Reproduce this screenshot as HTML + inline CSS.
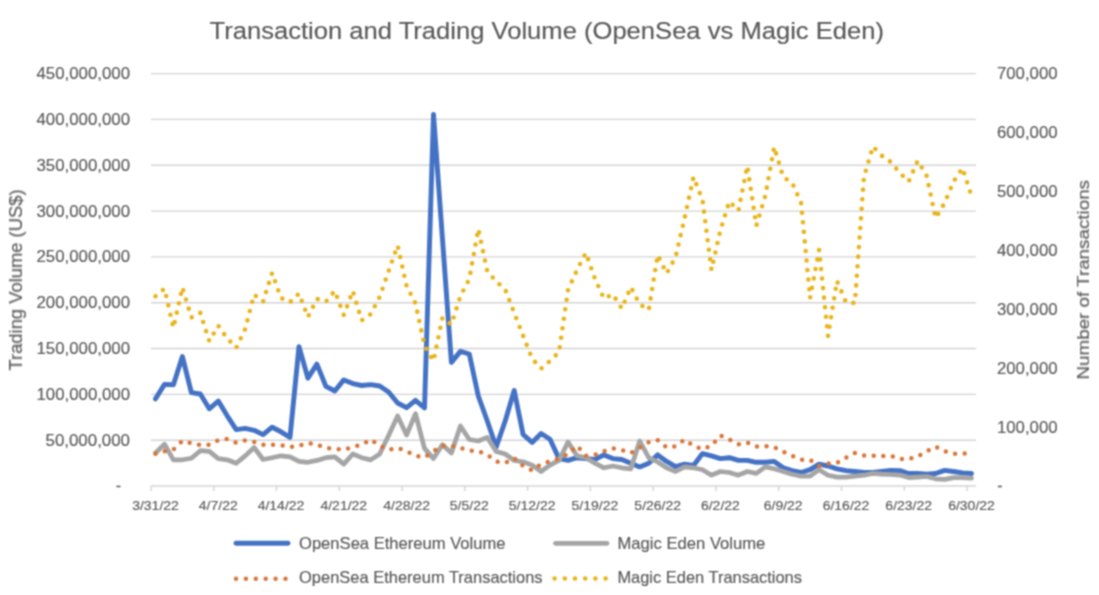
<!DOCTYPE html>
<html><head><meta charset="utf-8"><style>
html,body{margin:0;padding:0;background:#fff;width:1099px;height:595px;overflow:hidden}
svg{display:block}
text{font-family:"Liberation Sans",sans-serif;fill:#595959;stroke:#595959;stroke-width:0.15px}
</style></head><body>
<svg width="1099" height="595" viewBox="0 0 1099 595">
<defs><filter id="bl" x="-2%" y="-2%" width="104%" height="104%" color-interpolation-filters="sRGB"><feConvolveMatrix order="3" kernelMatrix="1 2 1 2 4 2 1 2 1" preserveAlpha="false" edgeMode="duplicate"/></filter></defs>
<rect width="1099" height="595" fill="#fff"/>
<g filter="url(#bl)">

<line x1="151" y1="440.2" x2="976" y2="440.2" stroke="#d4d4d4" stroke-width="1.4"/>
<line x1="151" y1="394.4" x2="976" y2="394.4" stroke="#d4d4d4" stroke-width="1.4"/>
<line x1="151" y1="348.5" x2="976" y2="348.5" stroke="#d4d4d4" stroke-width="1.4"/>
<line x1="151" y1="302.7" x2="976" y2="302.7" stroke="#d4d4d4" stroke-width="1.4"/>
<line x1="151" y1="256.9" x2="976" y2="256.9" stroke="#d4d4d4" stroke-width="1.4"/>
<line x1="151" y1="211.1" x2="976" y2="211.1" stroke="#d4d4d4" stroke-width="1.4"/>
<line x1="151" y1="165.2" x2="976" y2="165.2" stroke="#d4d4d4" stroke-width="1.4"/>
<line x1="151" y1="119.4" x2="976" y2="119.4" stroke="#d4d4d4" stroke-width="1.4"/>
<line x1="151" y1="73.6" x2="976" y2="73.6" stroke="#d4d4d4" stroke-width="1.4"/>
<line x1="151" y1="486.0" x2="976" y2="486.0" stroke="#d4d4d4" stroke-width="1.4"/>
<line x1="151.0" y1="486.0" x2="151.0" y2="491.0" stroke="#d4d4d4" stroke-width="1.4"/>
<line x1="213.8" y1="486.0" x2="213.8" y2="491.0" stroke="#d4d4d4" stroke-width="1.4"/>
<line x1="276.5" y1="486.0" x2="276.5" y2="491.0" stroke="#d4d4d4" stroke-width="1.4"/>
<line x1="339.3" y1="486.0" x2="339.3" y2="491.0" stroke="#d4d4d4" stroke-width="1.4"/>
<line x1="402.1" y1="486.0" x2="402.1" y2="491.0" stroke="#d4d4d4" stroke-width="1.4"/>
<line x1="464.9" y1="486.0" x2="464.9" y2="491.0" stroke="#d4d4d4" stroke-width="1.4"/>
<line x1="527.6" y1="486.0" x2="527.6" y2="491.0" stroke="#d4d4d4" stroke-width="1.4"/>
<line x1="590.4" y1="486.0" x2="590.4" y2="491.0" stroke="#d4d4d4" stroke-width="1.4"/>
<line x1="653.2" y1="486.0" x2="653.2" y2="491.0" stroke="#d4d4d4" stroke-width="1.4"/>
<line x1="715.9" y1="486.0" x2="715.9" y2="491.0" stroke="#d4d4d4" stroke-width="1.4"/>
<line x1="778.7" y1="486.0" x2="778.7" y2="491.0" stroke="#d4d4d4" stroke-width="1.4"/>
<line x1="841.5" y1="486.0" x2="841.5" y2="491.0" stroke="#d4d4d4" stroke-width="1.4"/>
<line x1="904.3" y1="486.0" x2="904.3" y2="491.0" stroke="#d4d4d4" stroke-width="1.4"/>
<line x1="967.0" y1="486.0" x2="967.0" y2="491.0" stroke="#d4d4d4" stroke-width="1.4"/>
<text x="118.5" y="491.0" font-size="16" text-anchor="middle">-</text>
<text x="130" y="445.7" font-size="16" text-anchor="end" textLength="84.5" lengthAdjust="spacingAndGlyphs">50,000,000</text>
<text x="130" y="399.9" font-size="16" text-anchor="end" textLength="93.5" lengthAdjust="spacingAndGlyphs">100,000,000</text>
<text x="130" y="354.0" font-size="16" text-anchor="end" textLength="93.5" lengthAdjust="spacingAndGlyphs">150,000,000</text>
<text x="130" y="308.2" font-size="16" text-anchor="end" textLength="93.5" lengthAdjust="spacingAndGlyphs">200,000,000</text>
<text x="130" y="262.4" font-size="16" text-anchor="end" textLength="93.5" lengthAdjust="spacingAndGlyphs">250,000,000</text>
<text x="130" y="216.6" font-size="16" text-anchor="end" textLength="93.5" lengthAdjust="spacingAndGlyphs">300,000,000</text>
<text x="130" y="170.7" font-size="16" text-anchor="end" textLength="93.5" lengthAdjust="spacingAndGlyphs">350,000,000</text>
<text x="130" y="124.9" font-size="16" text-anchor="end" textLength="93.5" lengthAdjust="spacingAndGlyphs">400,000,000</text>
<text x="130" y="79.1" font-size="16" text-anchor="end" textLength="93.5" lengthAdjust="spacingAndGlyphs">450,000,000</text>
<text x="1000" y="491.0" font-size="16" text-anchor="middle">-</text>
<text x="997" y="432.6" font-size="16" textLength="60.5" lengthAdjust="spacingAndGlyphs">100,000</text>
<text x="997" y="373.7" font-size="16" textLength="60.5" lengthAdjust="spacingAndGlyphs">200,000</text>
<text x="997" y="314.8" font-size="16" textLength="60.5" lengthAdjust="spacingAndGlyphs">300,000</text>
<text x="997" y="255.8" font-size="16" textLength="60.5" lengthAdjust="spacingAndGlyphs">400,000</text>
<text x="997" y="196.9" font-size="16" textLength="60.5" lengthAdjust="spacingAndGlyphs">500,000</text>
<text x="997" y="138.0" font-size="16" textLength="60.5" lengthAdjust="spacingAndGlyphs">600,000</text>
<text x="997" y="79.1" font-size="16" textLength="60.5" lengthAdjust="spacingAndGlyphs">700,000</text>
<text x="155.5" y="509.5" font-size="12.8" text-anchor="middle" textLength="46.7" lengthAdjust="spacingAndGlyphs">3/31/22</text>
<text x="218.3" y="509.5" font-size="12.8" text-anchor="middle" textLength="38.9" lengthAdjust="spacingAndGlyphs">4/7/22</text>
<text x="281.0" y="509.5" font-size="12.8" text-anchor="middle" textLength="46.7" lengthAdjust="spacingAndGlyphs">4/14/22</text>
<text x="343.8" y="509.5" font-size="12.8" text-anchor="middle" textLength="46.7" lengthAdjust="spacingAndGlyphs">4/21/22</text>
<text x="406.6" y="509.5" font-size="12.8" text-anchor="middle" textLength="46.7" lengthAdjust="spacingAndGlyphs">4/28/22</text>
<text x="469.3" y="509.5" font-size="12.8" text-anchor="middle" textLength="38.9" lengthAdjust="spacingAndGlyphs">5/5/22</text>
<text x="532.1" y="509.5" font-size="12.8" text-anchor="middle" textLength="46.7" lengthAdjust="spacingAndGlyphs">5/12/22</text>
<text x="594.9" y="509.5" font-size="12.8" text-anchor="middle" textLength="46.7" lengthAdjust="spacingAndGlyphs">5/19/22</text>
<text x="657.7" y="509.5" font-size="12.8" text-anchor="middle" textLength="46.7" lengthAdjust="spacingAndGlyphs">5/26/22</text>
<text x="720.4" y="509.5" font-size="12.8" text-anchor="middle" textLength="38.9" lengthAdjust="spacingAndGlyphs">6/2/22</text>
<text x="783.2" y="509.5" font-size="12.8" text-anchor="middle" textLength="38.9" lengthAdjust="spacingAndGlyphs">6/9/22</text>
<text x="846.0" y="509.5" font-size="12.8" text-anchor="middle" textLength="46.7" lengthAdjust="spacingAndGlyphs">6/16/22</text>
<text x="908.7" y="509.5" font-size="12.8" text-anchor="middle" textLength="46.7" lengthAdjust="spacingAndGlyphs">6/23/22</text>
<text x="971.5" y="509.5" font-size="12.8" text-anchor="middle" textLength="46.7" lengthAdjust="spacingAndGlyphs">6/30/22</text>
<text x="209.5" y="38.8" font-size="24.5" textLength="674.5" lengthAdjust="spacingAndGlyphs">Transaction and Trading Volume (OpenSea vs Magic Eden)</text>
<text transform="translate(22,370.5) rotate(-90)" font-size="17.5" textLength="181" lengthAdjust="spacingAndGlyphs">Trading Volume (US$)</text>
<text transform="translate(1089,379.5) rotate(-90)" font-size="17" textLength="199.5" lengthAdjust="spacingAndGlyphs">Number of Transactions</text>
<path d="M155.5,398.8 L164.5,384.4 L173.4,384.7 L182.4,356.6 L191.4,392.7 L200.3,394.0 L209.3,408.8 L218.3,401.0 L227.2,415.8 L236.2,429.6 L245.2,428.4 L254.1,430.3 L263.1,434.6 L272.1,427.2 L281.0,431.8 L290.0,437.3 L299.0,346.6 L307.9,378.1 L316.9,364.2 L325.9,386.4 L334.8,391.0 L343.8,379.9 L352.8,383.6 L361.7,385.5 L370.7,384.6 L379.7,386.0 L388.6,392.0 L397.6,403.0 L406.6,407.7 L415.5,400.3 L424.5,408.0 L433.5,114.5 L442.4,238.0 L451.4,362.4 L460.4,351.4 L469.3,354.0 L478.3,396.0 L487.3,421.0 L496.2,447.0 L505.2,421.0 L514.2,390.4 L523.1,434.5 L532.1,442.4 L541.1,433.5 L550.0,439.2 L559.0,458.6 L568.0,460.4 L577.0,457.7 L585.9,458.6 L594.9,459.5 L603.9,454.9 L612.8,458.6 L621.8,459.5 L630.8,463.2 L639.7,466.9 L648.7,463.2 L657.7,454.9 L666.6,461.4 L675.6,466.6 L684.6,464.1 L693.5,465.4 L702.5,453.6 L711.5,455.8 L720.4,458.6 L729.4,457.7 L738.4,460.4 L747.3,460.4 L756.3,462.3 L765.3,462.3 L774.2,461.4 L783.2,467.8 L792.2,470.6 L801.1,472.5 L810.1,469.7 L819.1,464.1 L828.0,466.0 L837.0,468.8 L846.0,470.6 L854.9,471.5 L863.9,472.5 L872.9,472.5 L881.8,471.5 L890.8,470.5 L899.8,470.6 L908.7,473.5 L917.7,473.5 L926.7,474.1 L935.6,473.5 L944.6,470.4 L953.6,471.5 L962.5,472.9 L971.5,473.5" fill="none" stroke="#4472c4" stroke-width="4.9" stroke-linejoin="round" stroke-linecap="round"/>
<path d="M155.5,453.0 L164.5,444.2 L173.4,459.8 L182.4,459.8 L191.4,458.2 L200.3,450.7 L209.3,451.4 L218.3,458.7 L227.2,459.8 L236.2,463.3 L245.2,455.9 L254.1,447.5 L263.1,459.5 L272.1,457.7 L281.0,455.8 L290.0,456.8 L299.0,461.4 L307.9,462.3 L316.9,460.4 L325.9,457.7 L334.8,456.8 L343.8,464.1 L352.8,454.0 L361.7,457.7 L370.7,459.9 L379.7,454.0 L388.6,435.5 L397.6,416.0 L406.6,435.0 L415.5,413.7 L424.5,448.4 L433.5,458.6 L442.4,444.7 L451.4,453.0 L460.4,426.0 L469.3,439.5 L478.3,441.0 L487.3,437.4 L496.2,451.5 L505.2,454.0 L514.2,460.5 L523.1,461.8 L532.1,465.1 L541.1,471.5 L550.0,465.1 L559.0,460.4 L568.0,442.0 L577.0,455.8 L585.9,457.7 L594.9,463.2 L603.9,467.8 L612.8,466.0 L621.8,467.8 L630.8,468.8 L639.7,441.0 L648.7,457.7 L657.7,462.0 L666.6,467.8 L675.6,471.5 L684.6,466.9 L693.5,467.8 L702.5,469.7 L711.5,475.2 L720.4,471.5 L729.4,472.5 L738.4,475.2 L747.3,471.5 L756.3,473.4 L765.3,466.9 L774.2,468.8 L783.2,471.5 L792.2,474.3 L801.1,476.2 L810.1,476.2 L819.1,469.7 L828.0,475.2 L837.0,477.1 L846.0,477.1 L854.9,476.2 L863.9,475.2 L872.9,473.4 L881.8,474.2 L890.8,474.5 L899.8,475.1 L908.7,477.6 L917.7,477.1 L926.7,476.5 L935.6,478.8 L944.6,479.4 L953.6,477.6 L962.5,477.6 L971.5,478.2" fill="none" stroke="#a5a5a5" stroke-width="4.7" stroke-linejoin="round" stroke-linecap="round"/>
<path d="M155.5,453.7 L164.5,451.4 L173.4,449.6 L182.4,440.8 L191.4,443.1 L200.3,445.0 L209.3,444.6 L218.3,440.1 L227.2,439.0 L236.2,442.7 L245.2,440.4 L254.1,442.0 L263.1,444.7 L272.1,444.7 L281.0,445.1 L290.0,447.0 L299.0,445.7 L307.9,442.9 L316.9,444.7 L325.9,448.0 L334.8,448.8 L343.8,449.9 L352.8,447.0 L361.7,444.7 L370.7,439.7 L379.7,445.7 L388.6,449.9 L397.6,448.0 L406.6,451.2 L415.5,455.8 L424.5,457.3 L433.5,451.2 L442.4,445.7 L451.4,445.7 L460.4,448.0 L469.3,450.6 L478.3,451.2 L487.3,454.9 L496.2,461.4 L505.2,462.9 L514.2,458.0 L523.1,466.0 L532.1,470.3 L541.1,464.1 L550.0,461.4 L559.0,458.6 L568.0,454.0 L577.0,445.7 L585.9,455.8 L594.9,454.9 L603.9,451.2 L612.8,448.4 L621.8,449.9 L630.8,453.0 L639.7,447.5 L648.7,442.0 L657.7,440.1 L666.6,447.5 L675.6,446.2 L684.6,439.6 L693.5,445.7 L702.5,449.4 L711.5,445.7 L720.4,435.5 L729.4,439.6 L738.4,444.4 L747.3,442.5 L756.3,446.6 L765.3,446.2 L774.2,447.0 L783.2,451.8 L792.2,455.8 L801.1,459.7 L810.1,459.9 L819.1,466.0 L828.0,463.6 L837.0,462.9 L846.0,457.7 L854.9,453.0 L863.9,455.5 L872.9,455.8 L881.8,456.2 L890.8,455.7 L899.8,459.0 L908.7,459.1 L917.7,456.5 L926.7,451.2 L935.6,446.6 L944.6,451.2 L953.6,453.9 L962.5,453.5 L971.5,453.5" fill="none" stroke="#d8763a" stroke-width="4.5" stroke-dasharray="0 9.6" stroke-linecap="round"/>
<path d="M155.5,296.2 L164.5,288.7 L173.4,327.7 L182.4,287.4 L191.4,317.5 L200.3,312.9 L209.3,341.1 L218.3,325.8 L227.2,338.4 L236.2,347.8 L245.2,329.0 L254.1,294.6 L263.1,301.6 L272.1,273.0 L281.0,298.0 L290.0,302.2 L299.0,293.5 L307.9,317.0 L316.9,298.9 L325.9,301.6 L334.8,290.9 L343.8,315.1 L352.8,290.9 L361.7,320.4 L370.7,314.2 L379.7,296.8 L388.6,271.2 L397.6,245.5 L406.6,286.0 L415.5,303.5 L424.5,345.5 L433.5,361.0 L442.4,317.8 L451.4,324.5 L460.4,296.0 L469.3,279.0 L478.3,229.0 L487.3,271.4 L496.2,281.4 L505.2,289.4 L514.2,312.9 L523.1,335.7 L532.1,358.6 L541.1,368.6 L550.0,360.9 L559.0,352.3 L568.0,290.0 L577.0,270.0 L585.9,252.9 L594.9,278.6 L603.9,298.6 L612.8,294.3 L621.8,308.6 L630.8,287.1 L639.7,304.3 L648.7,310.0 L657.7,255.0 L666.6,273.4 L675.6,257.1 L684.6,218.0 L693.5,177.0 L702.5,200.0 L711.5,270.0 L720.4,230.0 L729.4,201.4 L738.4,210.6 L747.3,166.0 L756.3,225.7 L765.3,195.7 L774.2,147.0 L783.2,177.1 L792.2,182.9 L801.1,202.9 L810.1,298.0 L819.1,250.0 L828.0,336.0 L837.0,281.0 L846.0,302.3 L854.9,303.0 L863.9,177.1 L872.9,146.5 L881.8,155.7 L890.8,162.0 L899.8,172.9 L908.7,181.4 L917.7,160.9 L926.7,176.0 L935.6,218.0 L944.6,203.0 L953.6,181.4 L962.5,168.0 L971.5,196.0" fill="none" stroke="#e8b41a" stroke-width="4.6" stroke-dasharray="0 9.6" stroke-linecap="round"/>
<line x1="236" y1="543.3" x2="288" y2="543.3" stroke="#4472c4" stroke-width="4.9" stroke-linecap="round"/>
<text x="299" y="549" font-size="16.2" textLength="206.5" lengthAdjust="spacingAndGlyphs">OpenSea Ethereum Volume</text>
<line x1="555.5" y1="543.3" x2="607" y2="543.3" stroke="#a5a5a5" stroke-width="4.7" stroke-linecap="round"/>
<text x="617.4" y="549" font-size="16.2" textLength="148" lengthAdjust="spacingAndGlyphs">Magic Eden Volume</text>
<line x1="236" y1="578.8" x2="286" y2="578.8" stroke="#d8763a" stroke-width="4.5" stroke-dasharray="0 9.9" stroke-linecap="round"/>
<text x="299" y="582.8" font-size="16.2" textLength="243.6" lengthAdjust="spacingAndGlyphs">OpenSea Ethereum Transactions</text>
<line x1="554.6" y1="578.5" x2="606" y2="578.5" stroke="#e8b41a" stroke-width="4.6" stroke-dasharray="0 10.2" stroke-linecap="round"/>
<text x="617.4" y="582.8" font-size="16.2" textLength="184.6" lengthAdjust="spacingAndGlyphs">Magic Eden Transactions</text>
</g></svg>
</body></html>
